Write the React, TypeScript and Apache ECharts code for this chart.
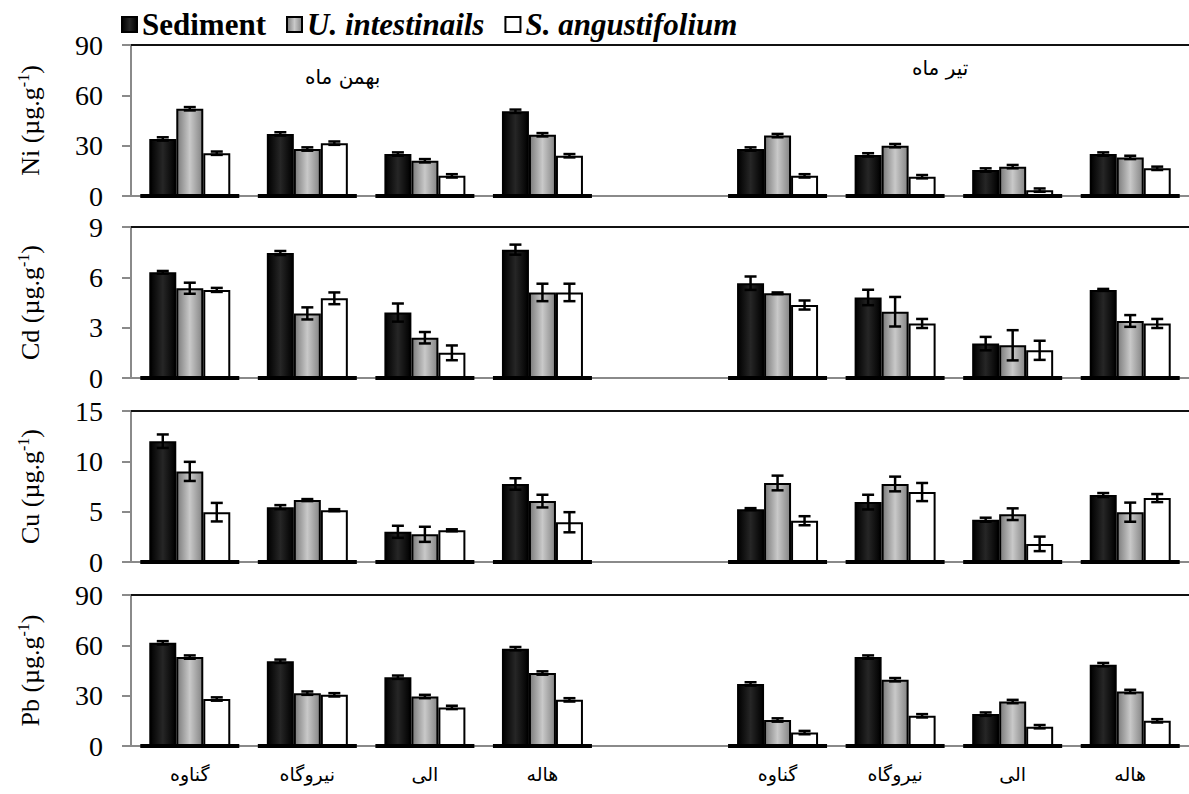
import React, { useEffect, useRef } from 'react';
import * as echarts from 'echarts';

const categories = ['گناوه', 'نیروگاه', 'الی', 'هاله', '', 'گناوه', 'نیروگاه', 'الی', 'هاله'];
const seriesNames = ['Sediment', 'U. intestinails', 'S. angustifolium'];
const periodLabels = ['بهمن ماه', 'تیر ماه'];

// Ni
const niSediment = [34, 37, 25, 50.5, '-', 28, 24.5, 15.5, 25];
const niUlva = [52, 28, 21, 36.5, '-', 36, 30, 17.5, 23];
const niSarg = [25.5, 31.5, 12, 24, '-', 12, 11.5, 3.5, 16.5];
const niSedimentErr = [1, 1, 1, 1, 0, 1, 1, 1, 1];
const niUlvaErr = [1, 1, 1, 1, 0, 1, 1, 1, 1];
const niSargErr = [1, 1, 1, 1, 0, 1, 1, 1, 1];

// Cd
const cdSediment = [6.3, 7.45, 3.9, 7.65, '-', 5.65, 4.8, 2.05, 5.25];
const cdUlva = [5.35, 3.85, 2.4, 5.1, '-', 5.05, 3.95, 1.95, 3.4];
const cdSarg = [5.25, 4.75, 1.5, 5.1, '-', 4.35, 3.25, 1.65, 3.25];
const cdSedimentErr = [0.08, 0.12, 0.54, 0.3, 0, 0.4, 0.46, 0.4, 0.06];
const cdUlvaErr = [0.33, 0.36, 0.34, 0.52, 0, 0.05, 0.88, 0.9, 0.35];
const cdSargErr = [0.12, 0.35, 0.44, 0.52, 0, 0.27, 0.27, 0.57, 0.27];

// Cu
const cuSediment = [12, 5.45, 3, 7.75, '-', 5.25, 5.95, 4.2, 6.65];
const cuUlva = [9, 6.15, 2.75, 6.05, '-', 7.85, 7.75, 4.75, 4.95];
const cuSarg = [4.95, 5.15, 3.15, 3.95, '-', 4.1, 6.95, 1.8, 6.35];
const cuSedimentErr = [0.67, 0.2, 0.6, 0.57, 0, 0.1, 0.73, 0.2, 0.2];
const cuUlvaErr = [0.95, 0.1, 0.75, 0.63, 0, 0.73, 0.73, 0.58, 0.95];
const cuSargErr = [0.92, 0.1, 0.1, 1.0, 0, 0.45, 0.9, 0.72, 0.4];

// Pb
const pbSediment = [61.5, 50.5, 41, 58, '-', 37, 53, 19, 48.5];
const pbUlva = [53, 31.5, 29.5, 43.5, '-', 15.5, 39.5, 26.5, 32.5];
const pbSarg = [28, 30.5, 23, 27.5, '-', 8, 18, 11.5, 15];
const pbSedimentErr = [1, 1, 1, 1, 0, 1, 1, 1, 1];
const pbUlvaErr = [1, 1, 1, 1, 0, 1, 1, 1, 1];
const pbSargErr = [1, 1, 1, 1, 0, 1, 1, 1, 1];

const panels = [
  { metal: 'Ni', max: 90, interval: 30, values: [niSediment, niUlva, niSarg], errors: [niSedimentErr, niUlvaErr, niSargErr] },
  { metal: 'Cd', max: 9, interval: 3, values: [cdSediment, cdUlva, cdSarg], errors: [cdSedimentErr, cdUlvaErr, cdSargErr] },
  { metal: 'Cu', max: 15, interval: 5, values: [cuSediment, cuUlva, cuSarg], errors: [cuSedimentErr, cuUlvaErr, cuSargErr] },
  { metal: 'Pb', max: 90, interval: 30, values: [pbSediment, pbUlva, pbSarg], errors: [pbSedimentErr, pbUlvaErr, pbSargErr] },
];

const GRID_TOPS = [45, 227, 411, 595];
const GRID_H = 151;
const BAR_W = 27;
const SERIF = "'Liberation Serif', 'Times New Roman', serif";
const ARABIC = "'DejaVu Sans', sans-serif";

function buildOption() {
  const fills: any[] = [
    new echarts.graphic.LinearGradient(0, 0, 1, 0, [
      { offset: 0, color: '#000' },
      { offset: 0.5, color: '#262626' },
      { offset: 1, color: '#000' },
    ]),
    new echarts.graphic.LinearGradient(0, 0, 1, 0, [
      { offset: 0, color: '#7c7c7c' },
      { offset: 0.5, color: '#c9c9c9' },
      { offset: 1, color: '#858585' },
    ]),
    '#ffffff',
  ];

  const grids: any[] = [];
  const xAxes: any[] = [];
  const yAxes: any[] = [];
  const series: any[] = [];

  panels.forEach((p, g) => {
    grids.push({ left: 131, right: -9, top: GRID_TOPS[g], height: GRID_H });
    xAxes.push({
      gridIndex: g,
      type: 'category',
      data: categories,
      position: 'bottom',
      axisLine: { show: true, lineStyle: { color: '#8a8a8a', width: 2 } },
      axisTick: { show: false },
      axisLabel: {
        show: g === panels.length - 1,
        interval: 0,
        margin: 18,
        fontFamily: ARABIC,
        fontSize: 19,
        color: '#000',
      },
    });
    xAxes.push({
      gridIndex: g,
      type: 'category',
      data: categories,
      position: 'top',
      axisLine: { show: true, lineStyle: { color: '#111', width: 2 } },
      axisTick: { show: false },
      axisLabel: { show: false },
    });
    yAxes.push({
      gridIndex: g,
      type: 'value',
      min: 0,
      max: p.max,
      interval: p.interval,
      name: `{n|${p.metal} (µg.g}{s|-1}{n|)}`,
      nameLocation: 'middle',
      nameGap: 86,
      nameTextStyle: {
        rich: {
          n: { fontFamily: SERIF, fontSize: 26, color: '#000', lineHeight: 30 },
          s: { fontFamily: SERIF, fontSize: 16, color: '#000', lineHeight: 16, verticalAlign: 'top' },
        },
      },
      axisLine: { show: true, lineStyle: { color: '#8a8a8a', width: 2 } },
      axisTick: { show: true, length: 9, lineStyle: { color: '#8a8a8a', width: 2 } },
      splitLine: { show: false },
      axisLabel: { fontFamily: SERIF, fontSize: 28, color: '#000', margin: 28 },
    });

    // base strips under each group
    const baseData = categories
      .map((c, i) => (c === '' ? null : [i, 0]))
      .filter((d) => d !== null);
    series.push({
      type: 'custom',
      xAxisIndex: g * 2,
      yAxisIndex: g,
      z: 1,
      silent: true,
      data: baseData,
      renderItem: (_params: any, api: any) => {
        const c = api.coord([api.value(0), 0]);
        const half = BAR_W * 1.5 + 9;
        return {
          type: 'rect',
          shape: { x: c[0] - half, y: c[1] - 2, width: half * 2, height: 4 },
          style: { fill: '#000' },
        };
      },
    });

    p.values.forEach((vals, s) => {
      series.push({
        type: 'bar',
        name: seriesNames[s],
        xAxisIndex: g * 2,
        yAxisIndex: g,
        data: vals,
        barWidth: BAR_W,
        barGap: '0%',
        z: 2,
        itemStyle: { color: fills[s], borderColor: '#000', borderWidth: 2 },
      });
    });

    p.values.forEach((vals, s) => {
      const errs = p.errors[s];
      const data = vals
        .map((v, i) => (v === '-' ? null : [i, v, errs[i]]))
        .filter((d) => d !== null);
      series.push({
        type: 'custom',
        xAxisIndex: g * 2,
        yAxisIndex: g,
        z: 5,
        silent: true,
        data,
        renderItem: (_params: any, api: any) => {
          const x = api.value(0);
          const v = api.value(1);
          const e = api.value(2);
          const c = api.coord([x, v]);
          const top = api.coord([x, v + e]);
          const bot = api.coord([x, Math.max(0, v - e)]);
          const cx = c[0] + (s - 1) * BAR_W;
          const hw = 6;
          const st = { stroke: '#000', lineWidth: 2.5 };
          return {
            type: 'group',
            children: [
              { type: 'line', shape: { x1: cx, y1: top[1], x2: cx, y2: bot[1] }, style: st },
              { type: 'line', shape: { x1: cx - hw, y1: top[1], x2: cx + hw, y2: top[1] }, style: st },
              { type: 'line', shape: { x1: cx - hw, y1: bot[1], x2: cx + hw, y2: bot[1] }, style: st },
            ],
          };
        },
      });
    });
  });

  return {
    animation: false,
    backgroundColor: '#fff',
    legend: {
      left: 116,
      top: 4,
      icon: 'rect',
      itemWidth: 15,
      itemHeight: 15,
      itemGap: 20,
      textStyle: { fontFamily: SERIF, fontWeight: 'bold', fontSize: 31, color: '#000' },
      data: [
        { name: seriesNames[0] },
        { name: seriesNames[1], textStyle: { fontStyle: 'italic' } },
        { name: seriesNames[2], textStyle: { fontStyle: 'italic' } },
      ],
    },
    grid: grids,
    xAxis: xAxes,
    yAxis: yAxes,
    series,
    graphic: [
      {
        type: 'text',
        left: 305,
        top: 67,
        style: { text: periodLabels[0], font: `20px ${ARABIC}`, fill: '#000' },
      },
      {
        type: 'text',
        left: 912,
        top: 58,
        style: { text: periodLabels[1], font: `20px ${ARABIC}`, fill: '#000' },
      },
    ],
  };
}

export default function App() {
  const ref = useRef<HTMLDivElement>(null);
  useEffect(() => {
    if (!ref.current) return;
    const chart = echarts.init(ref.current, null, { renderer: 'svg' });
    chart.setOption(buildOption());
    return () => chart.dispose();
  }, []);
  return (
    <div
      ref={ref}
      style={{ position: 'fixed', left: 0, top: 0, width: 1189, height: 794, background: '#fff' }}
    />
  );
}
